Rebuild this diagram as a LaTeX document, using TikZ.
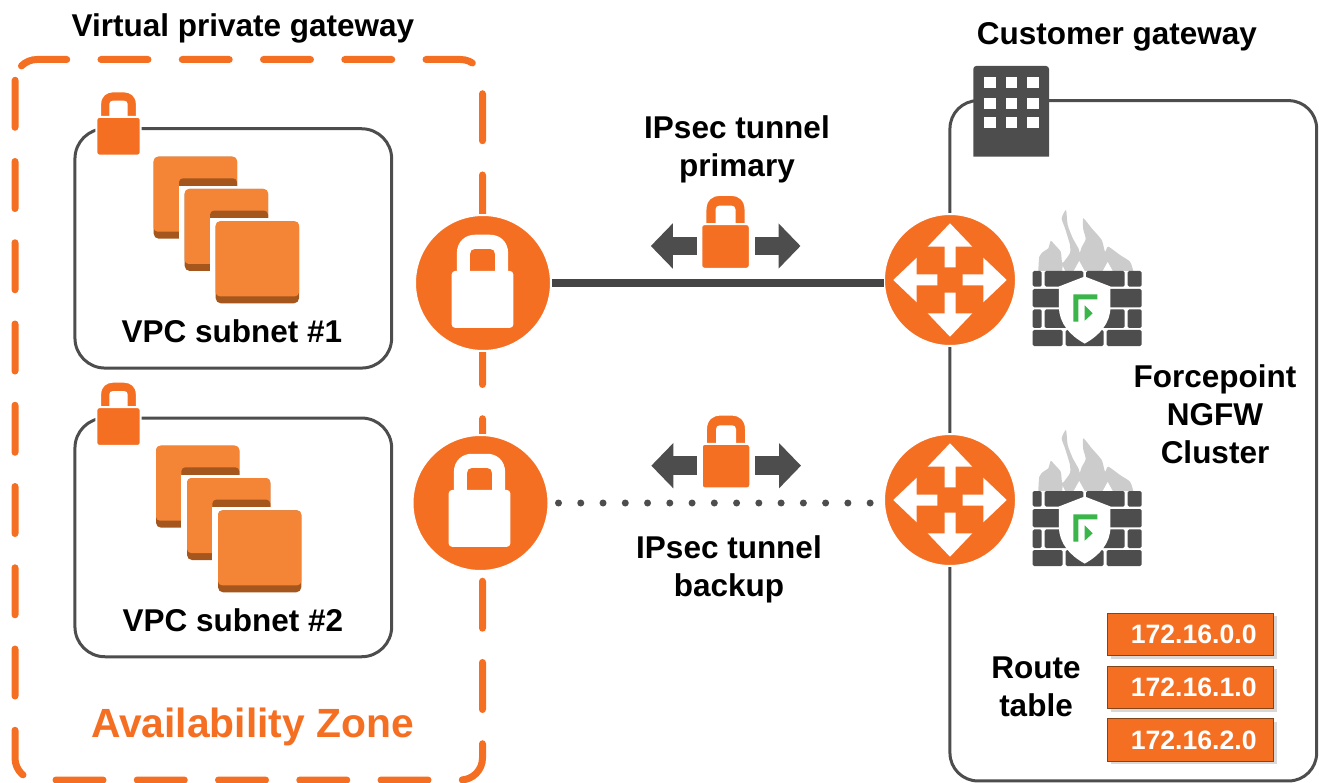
\documentclass[tikz,border=0pt]{standalone}
\usepackage{fontspec}
\setmainfont{Liberation Sans}
\usetikzlibrary{arrows.meta, shadows}
\definecolor{vpcorange}{HTML}{F56F23}
\definecolor{chiplight}{HTML}{F58536}
\definecolor{chipdark}{HTML}{A4561D}
\definecolor{wallgray}{HTML}{4D4D4D}
\definecolor{flamegray}{HTML}{CCCCCC}
\definecolor{shieldgreen}{HTML}{39B54A}
\tikzstyle{label} = [font=\fontsize{31.5}{38}\selectfont\bfseries,align=center,inner sep=0pt]
\tikzstyle{roundbox} = [draw=wallgray,line width=3pt,rounded corners=30pt,inner sep=0pt,outer sep=0pt]
\tikzstyle{gateway} = [circle,fill=vpcorange,draw=white,line width=2pt,minimum size=136pt,inner sep=0pt,outer sep=0pt]
\tikzstyle{router} = [circle,fill=vpcorange,draw=white,line width=2pt,minimum size=132pt,inner sep=0pt,outer sep=0pt]
\tikzstyle{routeentry} = [draw=chipdark!80!black,line width=1pt,fill=vpcorange,text=white,minimum width=166pt,minimum height=42.5pt,inner sep=0pt,font=\fontsize{26.6}{30}\selectfont\bfseries,drop shadow={shadow xshift=3pt,shadow yshift=-3pt,fill=black!30}]
\tikzstyle{tunnelarrow} = [wallgray,line width=18.5pt,-{Triangle[length=22pt,width=44pt]}]
\tikzset{
	pics/padlock/.style 2 args={code={
		\path[draw=white,line width=2pt,fill=#1] (-26,-56) -- (-26,-76) .. controls (-26,-89) and (-17,-95) .. (-8,-95) -- (8,-95) .. controls (17,-95) and (26,-89) .. (26,-76) -- (26,-56) -- cycle;
		\fill[#2] (-13,-54) -- (-13,-76) .. controls (-13,-79) and (-11,-81) .. (-8,-81) -- (8,-81) .. controls (11,-81) and (13,-79) .. (13,-76) -- (13,-54) -- cycle;
		\path[draw=white,line width=2pt,fill=#1,rounded corners=3pt] (-31.5,-57) rectangle (31.5,1);
	}},
	pics/chipstack/.style={code={
		\foreach \i in {0,1,2} {
			\begin{scope}[shift={(31*\i,32.3*\i)}]
				\fill[chipdark,rounded corners=5pt] (0,0) rectangle (83.3,82);
				\fill[chiplight,rounded corners=4pt] (0,0) rectangle (83.3,75);
				\ifnum\i<2
					\fill[chipdark,rounded corners=4pt] (25.3,21.6) rectangle (83.3,40);
					\fill[white] (25.3,29.3) rectangle (84,83);
				\fi
			\end{scope}
		}
	}},
	pics/routerarrows/.style={code={
		\foreach \rot in {0,90,180,270}
			\fill[white,rotate=\rot] (-5.5,-12.7) -- (-5.5,-33.3) -- (-22.3,-33.3) -- (0,-56.7) -- (22.3,-33.3) -- (5.5,-33.3) -- (5.5,-12.7) -- cycle;
	}},
	pics/firewall/.style={code={
		\fill[flamegray] plot[smooth,tension=.4] coordinates {(5.6,0) (6.6,-14.3) (10.6,-19.3) (15.6,-22.7) (18,-30) (22.3,-26) (28,-19.3) (29,-11) (30,-8) (34,-13) (37.3,-18) (37.3,-26) (32.3,-42.7) (29,-52.7) (33.3,-61) (35,-46) (40,-33) (46,-22) (47,-18) (49,-24) (53,-32) (50.5,-42) (50.6,-52.7) (59,-42.7) (69,-31) (72.3,-19.3) (75.6,-24.3) (87.3,-16) (97.3,-9.3) (100.6,0)} -- cycle;
		\fill[white] (29.5,0) -- (30,-5) -- (32.5,0) -- cycle (41,0) -- (46.5,-10) -- (52,0) -- cycle (70,0) -- (75,-9) -- (80,0) -- cycle;
		\foreach \xa/\xb/\ya/\yb in {0/9/0/15.7, 12/50.7/0/15.7, 53.3/92/0/15.7, 95/109/0/15.7, 0/30/18/36.3, 74/109/18/36.3, 0/9/38.3/57, 12/40/38.3/57, 62/92/38.3/57, 95/109/38.3/57, 0/30/59/75, 33/71/59/75, 74/109/59/75}
			\fill[wallgray,rounded corners=1.5pt] (\xa,\ya) rectangle (\xb,\yb);
		\path[draw=white,line width=1.5pt,fill=white] (52,6.3) -- (77,16) -- (77,36) .. controls (77,52) and (66,64) .. (52,71.7) .. controls (38,64) and (27,52) .. (27,36) -- (27,16) -- cycle;
		\fill[shieldgreen] (40.7,23.3) -- (64.7,23.3) -- (64.7,28.3) -- (45.7,28.3) -- (45.7,50.7) -- (40.7,50.7) -- cycle;
		\fill[shieldgreen] (52,34.3) -- (60,42.3) -- (52,49.7) -- cycle;
	}},
	pics/tunnellock/.style={code={
		\coordinate (-leftstart) at (-29,-22);
		\coordinate (-leftend) at (-74.7,-22);
		\coordinate (-rightstart) at (29.3,-22);
		\coordinate (-rightend) at (75,-22);
		\draw[tunnelarrow] (-leftstart) -- (-leftend);
		\draw[tunnelarrow] (-rightstart) -- (-rightend);
		\pic[scale=.77] {padlock={vpcorange}{white}};
	}}
}

\begin{document}
\begin{tikzpicture}[x=1pt,y=-1pt]
	\useasboundingbox (0,0) rectangle (1319,783);
	
	\draw[vpcorange,line width=7pt,line cap=round,dash pattern=on 47pt off 34.25pt] (21.44,65.94) .. controls (25.57,61.81) and (31.16,59.5) .. (37,59.5) -- (460.5,59.5) .. controls (472.65,59.5) and (482.5,69.35) .. (482.5,81.5) -- (482.5,758) .. controls (482.5,770.15) and (472.65,780) .. (460.5,780) -- (37,780) .. controls (24.85,780) and (15,770.15) .. (15,758) -- (15,81.5) .. controls (15,75.66) and (17.31,70.07) .. (21.44,65.94);
	
	\node[roundbox,minimum width=316.7pt,minimum height=239.3pt] (subnet1) at (233.3,248.4) {};
	\node[roundbox,minimum width=316.7pt,minimum height=238.7pt] (subnet2) at (233.3,537.4) {};
	\node[roundbox,rounded corners=28pt,minimum width=366.7pt,minimum height=680.3pt] (customer) at (1133.3,440.8) {};
	
	\pic[xscale=.705,yscale=.67] at (118.5,155) {padlock={vpcorange}{white}};
	\pic[xscale=.705,yscale=.67] at (118.5,445.3) {padlock={vpcorange}{white}};
	\pic at (153.7,156.7) {chipstack};
	\pic at (156,445.7) {chipstack};
	
	\fill[wallgray,rounded corners=3pt] (973.3,66) -- (1049,66) -- (1049,130) [sharp corners] -- (1049,156.7) -- (973.3,156.7) -- (973.3,130) [rounded corners=3pt] -- cycle;
	\foreach \wx in {984.3,1005.7,1027.2}
		\foreach \wy in {77,98,117.5}
			\fill[white] (\wx,\wy) rectangle ++(11.3,11);
	
	\node[gateway] (gw1) at (483,283) {};
	\node[gateway] (gw2) at (480.5,503) {};
	\node[router] (rt1) at (950,280) {};
	\node[router] (rt2) at (950,500) {};
	\pic[scale=.95] at (482.5,326) {padlock={white}{vpcorange}};
	\pic[scale=.95] at (479.5,545) {padlock={white}{vpcorange}};
	\pic at (rt1) {routerarrows};
	\pic at (rt2) {routerarrows};
	\pic at (1032.7,271) {firewall};
	\pic at (1032.7,491) {firewall};
	
	\draw[wallgray!90!black,line width=7.5pt,shorten <=1pt] (gw1.east) -- (rt1.west |- gw1.east);
	\draw[wallgray,line width=7pt,line cap=round,dash pattern=on 0pt off 22.26pt,shorten <=10pt,shorten >=12pt] (gw2.east) -- (rt2.west |- gw2.east);
	\pic (lock1) at (725.5,268) {tunnellock};
	\pic (lock2) at (726,487.7) {tunnellock};
	
	\node[label] (vgwlabel) at (243,28) {Virtual private gateway};
	\node[label] (cgwlabel) at (1117,37) {Customer gateway};
	\node[label] (primarylabel) at (737,149) {IPsec tunnel\\primary};
	\node[label] (backuplabel) at (729,569) {IPsec tunnel\\backup};
	\node[label] (subnet1label) at (232,331) {VPC subnet \#1};
	\node[label] (subnet2label) at (233,620) {VPC subnet \#2};
	\node[label] (fwlabel) at (1215,414) {Forcepoint\\NGFW\\Cluster};
	\node[label] (routelabel) at (1036,687) {Route\\table};
	\node[label,font=\fontsize{40.8}{46}\selectfont\bfseries,text=vpcorange] (azlabel) at (252.5,727) {Availability Zone};
	
	\node[routeentry] (route0) at (1190.7,634.7) {\hspace*{6pt}172.16.0.0};
	\node[routeentry] (route1) at (1190.7,687.3) {\hspace*{6pt}172.16.1.0};
	\node[routeentry] (route2) at (1190.7,740.2) {\hspace*{6pt}172.16.2.0};
\end{tikzpicture}
\end{document}
